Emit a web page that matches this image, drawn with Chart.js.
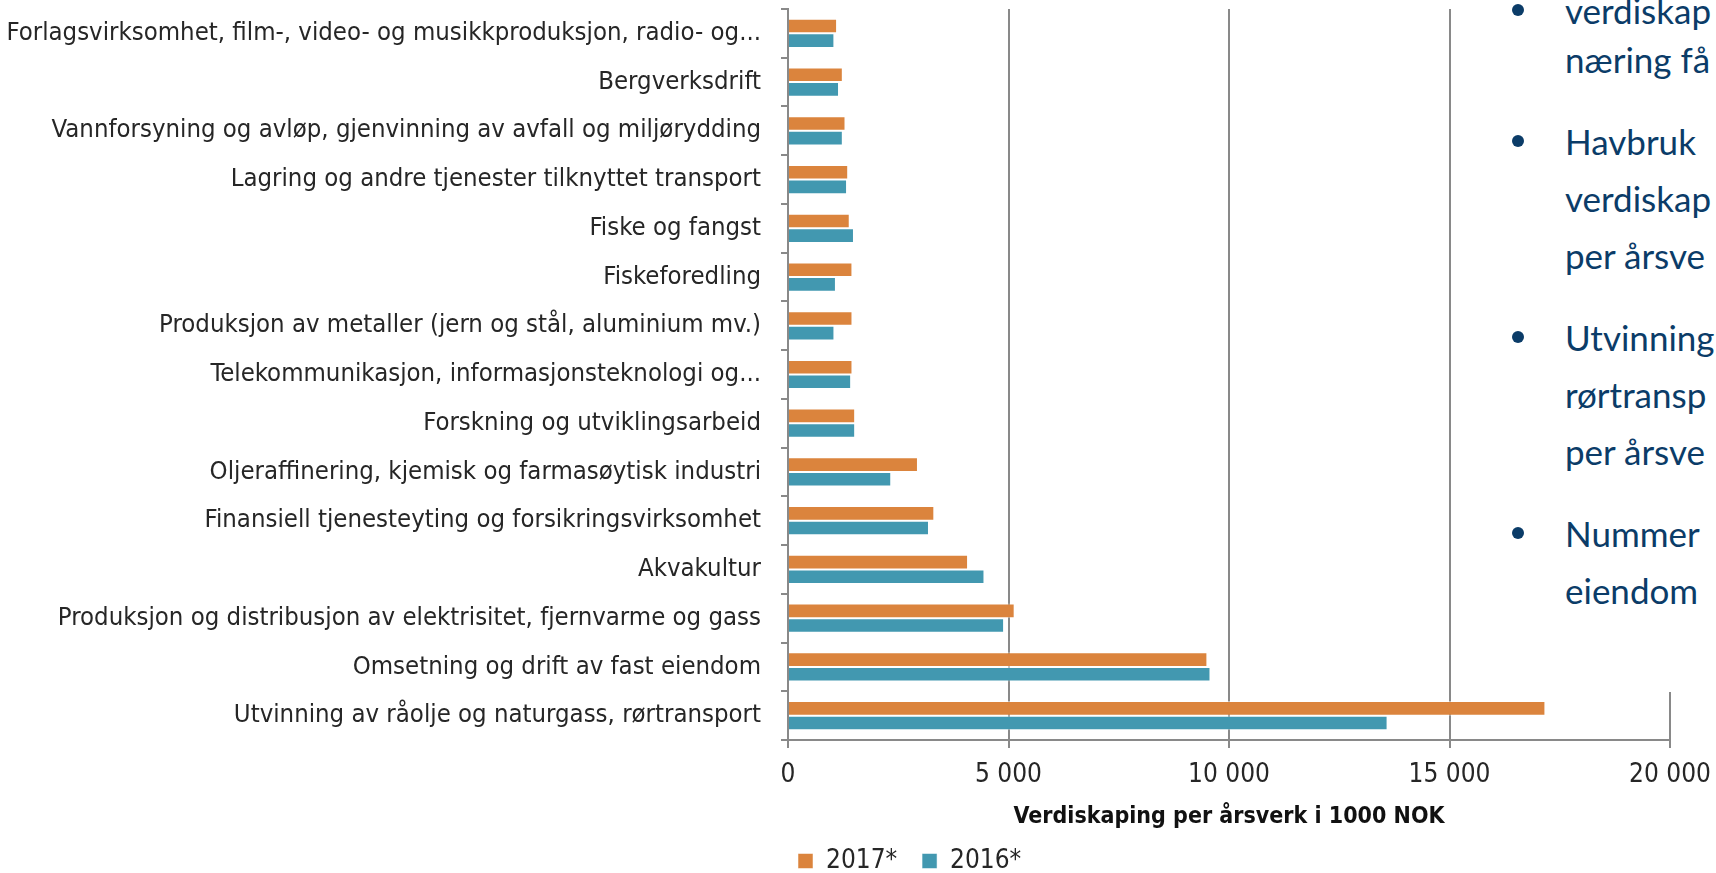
<!DOCTYPE html>
<html>
<head>
<meta charset="utf-8">
<script src="https://cdn.jsdelivr.net/npm/chart.js@4.4.1/dist/chart.umd.min.js"></script>
<style>
  html, body { margin: 0; padding: 0; background: #fff; overflow: hidden; }
  #wrap { position: relative; width: 1716px; height: 873px; }
  #notes {
    position: absolute; left: 1470px; top: 0; width: 246px; height: 692px;
    background: #fff; overflow: hidden;
    font-family: Lato, 'Open Sans', sans-serif; font-size: 35px; color: #0b3c68;
  }
  #notes .inner { position: absolute; top: -26px; left: 0; }
  .bullet { position: relative; padding-left: 95px; line-height: 57px; margin-bottom: 25px; white-space: nowrap; }
  .bullet::before {
    content: ''; position: absolute; left: 42px; top: 22px;
    width: 12px; height: 12px; border-radius: 50%; background: #0b3c68;
  }
  .bullet.first::before { top: 30px; }
  .shift { position: relative; top: 8px; }
</style>
</head>
<body>
<div id="wrap">
  <canvas id="chart" width="1716" height="873"></canvas>
  <div id="notes">
    <div class="inner">
      <div class="bullet first"><span class="shift">verdiskap</span><br>næring få</div>
      <div class="bullet">Havbruk<br>verdiskap<br>per årsve</div>
      <div class="bullet">Utvinning<br>rørtransp<br>per årsve</div>
      <div class="bullet">Nummer<br>eiendom</div>
    </div>
  </div>
</div>
<script>
const categories = [
  'Forlagsvirksomhet, film-, video- og musikkproduksjon, radio- og...',
  'Bergverksdrift',
  'Vannforsyning og avløp, gjenvinning av avfall og miljørydding',
  'Lagring og andre tjenester tilknyttet transport',
  'Fiske og fangst',
  'Fiskeforedling',
  'Produksjon av metaller (jern og stål, aluminium mv.)',
  'Telekommunikasjon, informasjonsteknologi og...',
  'Forskning og utviklingsarbeid',
  'Oljeraffinering, kjemisk og farmasøytisk industri',
  'Finansiell tjenesteyting og forsikringsvirksomhet',
  'Akvakultur',
  'Produksjon og distribusjon av elektrisitet, fjernvarme og gass',
  'Omsetning og drift av fast eiendom',
  'Utvinning av råolje og naturgass, rørtransport',
];
const values2017 = [1113, 1243, 1304, 1365, 1400, 1461, 1462, 1462, 1523, 2947, 3318, 4083, 5140, 9510, 17175];
const values2016 = [1052, 1157, 1243, 1339, 1496, 1087, 1053, 1432, 1523, 2341, 3197, 4455, 4900, 9580, 13596];
const xTicks = [0, 5000, 10000, 15000, 20000];

const orange = '#db843d';
const teal = '#4298b0';
const axisGray = '#898989';
const labelFont = "'DejaVu Sans Condensed', 'DejaVu Sans', sans-serif";

const formatTick = (value) => String(value).replace(/\B(?=(\d{3})+(?!\d))/g, '\u00a0');

new Chart(document.getElementById('chart'), {
  type: 'bar',
  data: {
    labels: categories,
    datasets: [
      { label: '2017*', data: values2017, backgroundColor: orange, borderColor: 'rgba(255,255,255,0.5)', borderWidth: 1 },
      { label: '2016*', data: values2016, backgroundColor: teal, borderColor: 'rgba(255,255,255,0.5)', borderWidth: 1 },
    ],
  },
  options: {
    indexAxis: 'y',
    responsive: false,
    animation: false,
    layout: { padding: { left: 0, right: 46, top: 9, bottom: -11 } },
    datasets: { bar: { categoryPercentage: 0.6, barPercentage: 1 } },
    scales: {
      x: {
        min: 0,
        max: 20000,
        afterBuildTicks: (scale) => { scale.ticks = xTicks.map((v) => ({ value: v })); },
        afterFit: (scale) => {
          scale.height = 98;
          scale.paddingLeft = 0;
          scale.paddingRight = 0;
        },
        grid: { color: axisGray, lineWidth: 2, tickLength: 8 },
        border: { color: axisGray, width: 2 },
        ticks: {
          callback: (value) => formatTick(value),
          color: '#262626',
          padding: 12,
          font: { family: labelFont, size: 26 },
        },
        title: {
          display: true,
          text: 'Verdiskaping per årsverk i 1000 NOK',
          color: '#111',
          font: { family: labelFont, size: 23, weight: 'bold' },
          padding: { top: 0, bottom: 7 },
        },
      },
      y: {
        afterFit: (scale) => {
          scale.width = 788;
          scale.paddingTop = 0;
          scale.paddingBottom = 0;
        },
        grid: { offset: true, drawOnChartArea: false, tickLength: 7, color: axisGray, lineWidth: 2 },
        border: { color: axisGray, width: 2 },
        ticks: {
          color: '#262626',
          padding: 20,
          font: { family: labelFont, size: 25.5 },
        },
      },
    },
    plugins: {
      legend: {
        position: 'bottom',
        align: 'start',
        fullSize: false,
        labels: {
          boxWidth: 15,
          boxHeight: 15,
          padding: 10,
          color: '#262626',
          font: { family: labelFont, size: 26 },
          generateLabels: (chart) =>
            Chart.defaults.plugins.legend.labels.generateLabels(chart).map((item) => ({ ...item, text: item.text + '  ' })),
        },
      },
      tooltip: { enabled: false },
    },
  },
});
</script>
</body>
</html>
